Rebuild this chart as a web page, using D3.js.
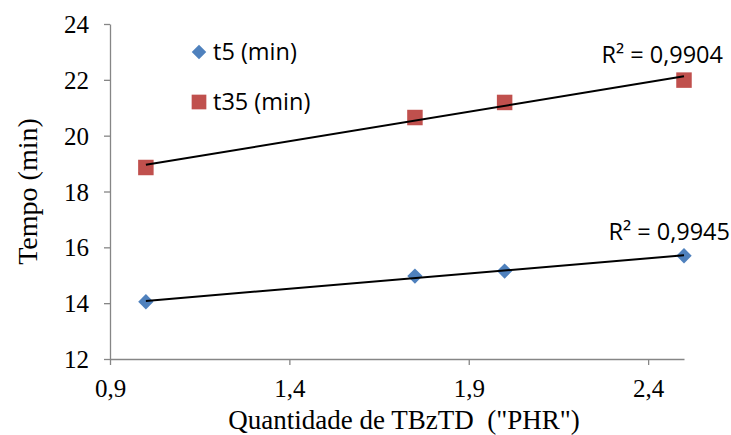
<!DOCTYPE html>
<html>
<head>
<meta charset="utf-8">
<script src="https://cdn.jsdelivr.net/npm/d3@7"></script>
<style>
  body { margin: 0; background: #fff; }
  svg { display: block; }
</style>
</head>
<body>
<svg id="chart" width="731" height="435"></svg>
<script>
// dados
var phr = [1.0, 1.75, 2.0, 2.5];
var t5 = [14.05, 14.97, 15.15, 15.7];
var t35 = [18.86, 20.65, 21.19, 21.99];
var r2Labels = ['R² = 0,9945', 'R² = 0,9904'];
var xTicks = [0.9, 1.4, 1.9, 2.4];
var yTicks = [12, 14, 16, 18, 20, 22, 24];

var svg = d3.select('#chart');
var mLeft = 110, mTop = 24, mRight = 684, mBottom = 359;

var x = d3.scaleLinear().domain([0.9, 2.5]).range([mLeft, mRight]);
var y = d3.scaleLinear().domain([12, 24]).range([mBottom, mTop]);

var fmt = function (d) { return d3.format('.1f')(d).replace('.', ','); };
var serif = '"Liberation Serif", "Times New Roman", serif';
var sans = '"Open Sans", sans-serif';

// eixo x
var gx = svg.append('g')
    .attr('transform', `translate(0,${mBottom})`)
    .call(d3.axisBottom(x).tickValues(xTicks).tickSize(6).tickSizeOuter(0).tickFormat(fmt));
// eixo y
var gy = svg.append('g')
    .attr('transform', `translate(${mLeft},0)`)
    .call(d3.axisLeft(y).tickValues(yTicks).tickSize(6).tickSizeOuter(0));

[gx, gy].forEach(function (g) {
    g.attr('font-family', serif).attr('font-size', 25);
    g.select('.domain').attr('stroke', '#868686').attr('stroke-width', 1.3);
    g.selectAll('.tick line').attr('stroke', '#868686').attr('stroke-width', 1.3);
    g.selectAll('.tick text')
        .attr('fill', '#000')
        .style('font-family', serif)
        .style('font-size', '25px');
});
gx.selectAll('.tick text').attr('y', 38).attr('dy', 0);
gy.selectAll('.tick text').attr('x', -21).attr('dy', '0.34em');

// títulos dos eixos
svg.append('text')
    .attr('x', 404)
    .attr('y', 429)
    .attr('text-anchor', 'middle')
    .style('font-family', serif)
    .style('font-size', '27px')
    .style('white-space', 'pre')
    .text('Quantidade de TBzTD  ("PHR")');

svg.append('text')
    .attr('transform', `translate(37,${(mTop + mBottom) / 2}) rotate(-90)`)
    .attr('text-anchor', 'middle')
    .style('font-family', serif)
    .style('font-size', '28px')
    .text('Tempo (min)');

// regressão linear
function fit(xs, ys) {
    var mx = d3.mean(xs), my = d3.mean(ys);
    var sxy = d3.sum(xs, function (v, i) { return (v - mx) * (ys[i] - my); });
    var sxx = d3.sum(xs, function (v) { return (v - mx) * (v - mx); });
    var b = sxy / sxx;
    return { b: b, a: my - b * mx };
}

var series = [
    { name: 't5 (min)', values: t5, color: '#4F81BD', symbol: d3.symbolDiamond2, size: 150 },
    { name: 't35 (min)', values: t35, color: '#C0504D', symbol: d3.symbolSquare, size: 240 }
];

series.forEach(function (s) {
    var f = fit(phr, s.values);
    var x0 = d3.min(phr), x1 = d3.max(phr);
    var pts = s.values.map(function (v, i) { return [phr[i], v]; });

    svg.append('g').selectAll('path')
        .data(pts)
        .enter()
        .append('path')
        .attr('d', d3.symbol().type(s.symbol).size(s.size))
        .attr('transform', function (d) { return `translate(${x(d[0])},${y(d[1])})`; })
        .attr('fill', s.color);

    svg.append('line')
        .attr('x1', x(x0)).attr('y1', y(f.a + f.b * x0))
        .attr('x2', x(x1)).attr('y2', y(f.a + f.b * x1))
        .attr('stroke', '#000')
        .attr('stroke-width', 2);
});

// rótulos R²
svg.append('text')
    .attr('x', 730).attr('y', 240)
    .attr('text-anchor', 'end')
    .style('font-family', sans)
    .style('font-size', '23.5px')
    .text(r2Labels[0]);
svg.append('text')
    .attr('x', 723).attr('y', 63)
    .attr('text-anchor', 'end')
    .style('font-family', sans)
    .style('font-size', '23.5px')
    .text(r2Labels[1]);

// legenda
var legend = svg.append('g');
series.forEach(function (s, i) {
    var ly = 52 + i * 50;
    legend.append('path')
        .attr('d', d3.symbol().type(s.symbol).size(s.size * 0.9))
        .attr('transform', `translate(199,${ly})`)
        .attr('fill', s.color);
    legend.append('text')
        .attr('x', 213).attr('y', ly + 8)
        .style('font-family', sans)
        .style('font-size', '23.5px')
        .text(s.name);
});
</script>
</body>
</html>
